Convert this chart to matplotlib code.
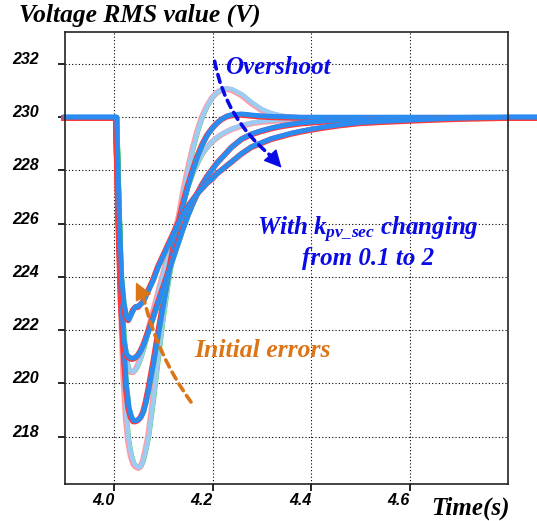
import matplotlib
matplotlib.use("Agg")
import matplotlib.pyplot as plt
from matplotlib.transforms import ScaledTranslation

plt.rcParams['mathtext.fontset'] = 'custom'
plt.rcParams['mathtext.rm'] = 'Liberation Serif:bold:italic'
plt.rcParams['mathtext.it'] = 'Liberation Serif:bold:italic'
plt.rcParams['mathtext.bf'] = 'Liberation Serif:bold:italic'

# Tiempo (s) y valor RMS de la tensión (V) para cada k_pv_sec
t = [3.90, 4.000, 4.005, 4.010, 4.015, 4.020, 4.025, 4.030, 4.035, 4.040,
     4.045, 4.050, 4.055, 4.060, 4.065, 4.070, 4.080, 4.090, 4.100, 4.110,
     4.120, 4.130, 4.140, 4.150, 4.160, 4.170, 4.180, 4.190, 4.200, 4.210,
     4.220, 4.230, 4.240, 4.260, 4.280, 4.300, 4.320, 4.340, 4.360, 4.380,
     4.400, 4.430, 4.460, 4.500, 4.550, 4.600, 4.650, 4.700, 4.750, 4.800,
     4.860]

v_a = [230.0, 230.0, 230.0, 226.5, 223.0, 220.3, 218.7, 217.8, 217.3, 217.0,
       216.9, 216.85, 216.9, 217.15, 217.55, 218.0, 219.4, 221.0, 222.5, 223.8,
       224.9, 226.0, 227.1, 228.0, 228.8, 229.5, 230.05, 230.45, 230.75, 230.95,
       231.05, 231.08, 231.05, 230.85, 230.55, 230.3, 230.15, 230.06, 230.02, 230.0,
       230.0, 230.0, 230.0, 230.0, 230.0, 230.0, 230.0, 230.0, 230.0, 230.0,
       230.0]
v_b = [230.0, 230.0, 230.0, 226.5, 223.5, 221.3, 219.9, 219.1, 218.75, 218.6,
       218.6, 218.65, 218.75, 218.95, 219.3, 219.75, 220.75, 221.85, 222.95, 224.0,
       225.0, 225.9, 226.7, 227.4, 228.0, 228.55, 229.0, 229.35, 229.6, 229.8,
       229.95, 230.05, 230.1, 230.12, 230.08, 230.05, 230.03, 230.02, 230.01, 230.0,
       230.0, 230.0, 230.0, 230.0, 230.0, 230.0, 230.0, 230.0, 230.0, 230.0,
       230.0]
v_c = [230.0, 230.0, 230.0, 226.5, 223.5, 221.8, 220.9, 220.55, 220.45, 220.45,
       220.55, 220.75, 221.0, 221.3, 221.65, 222.0, 222.7, 223.4, 224.1, 224.8,
       225.45, 226.1, 226.8, 227.4, 227.9, 228.3, 228.65, 228.9, 229.1, 229.25,
       229.38, 229.48, 229.57, 229.7, 229.79, 229.85, 229.88, 229.91, 229.93, 229.95,
       229.96, 229.97, 229.98, 229.99, 230.0, 230.0, 230.0, 230.0, 230.0, 230.0,
       230.0]
v_d = [230.0, 230.0, 230.0, 226.0, 223.0, 221.6, 221.1, 221.0, 220.95, 220.95,
       221.0, 221.1, 221.25, 221.45, 221.7, 221.95, 222.5, 223.05, 223.6, 224.15,
       224.7, 225.25, 225.8, 226.3, 226.75, 227.15, 227.5, 227.8, 228.05, 228.3,
       228.5, 228.7, 228.9, 229.2, 229.38, 229.5, 229.6, 229.68, 229.74, 229.79,
       229.82, 229.86, 229.9, 229.93, 229.95, 229.96, 229.98, 229.99, 230.0, 230.0,
       230.0]
v_e = [230.0, 230.0, 230.0, 226.5, 224.0, 223.0, 222.5, 222.4, 222.6, 222.8,
       222.9, 222.9, 223.0, 223.1, 223.3, 223.5, 223.9, 224.4, 224.8, 225.2,
       225.6, 226.0, 226.35, 226.65, 226.9, 227.15, 227.35, 227.55, 227.7, 227.9,
       228.05, 228.2, 228.35, 228.65, 228.9, 229.05, 229.2, 229.3, 229.4, 229.48,
       229.55, 229.64, 229.72, 229.8, 229.85, 229.89, 229.93, 229.96, 229.98, 230.0,
       230.0]

x_ticks = [4.0, 4.2, 4.4, 4.6]
y_ticks = [218, 220, 222, 224, 226, 228, 230, 232]

# claros primero, saturados encima
curvas = [
    (v_a, '#ff9ca4', '#9ccbf4', 3.2),
    (v_c, '#ff9ca4', '#9ccbf4', 3.2),
    (v_b, '#ff3838', '#2a8cf0', 3.5),
    (v_d, '#ff3838', '#2a8cf0', 3.5),
    (v_e, '#ff3838', '#2a8cf0', 3.5),
]

fig = plt.figure(figsize=(5.37, 5.21), dpi=100)
ax = fig.add_axes([0.121, 0.071, 0.825, 0.8676])

off_red = ax.transData + ScaledTranslation(-0.008, -0.008, fig.dpi_scale_trans)
off_green = ax.transData + ScaledTranslation(0.015, 0.0, fig.dpi_scale_trans)
for v, c_red, c_blue, lw in curvas:
    ax.plot(t, v, color=c_red, lw=4.2, clip_on=False, transform=off_red)
    ax.plot(t, v, color='#4fdc4f', lw=1.6, clip_on=False, transform=off_green)
    ax.plot(t, v, color=c_blue, lw=lw, clip_on=False)

ax.set_xlim(3.9, 4.8)
ax.set_ylim(216.22, 233.2)
ax.set_xticks(x_ticks)
ax.set_yticks(y_ticks)
ax.set_xticklabels(['%.1f' % x for x in x_ticks])
ax.set_yticklabels([str(y) for y in y_ticks])
ax.grid(True, color='black', linestyle=(0, (1, 2)), linewidth=0.8)
ax.tick_params(axis='y', direction='out', length=5, width=1.2, pad=14)
ax.tick_params(axis='x', direction='out', length=5, width=1.2, pad=1.5)
for lab in ax.get_yticklabels():
    lab.set_fontfamily('Liberation Sans')
    lab.set_fontweight('bold')
    lab.set_fontstyle('italic')
    lab.set_fontsize(11.5)
    lab.set_va('baseline')
for lab in ax.get_xticklabels():
    lab.set_fontfamily('Liberation Sans')
    lab.set_fontweight('bold')
    lab.set_fontstyle('italic')
    lab.set_fontsize(11.5)
    lab.set_ha('right')
for sp in ax.spines.values():
    sp.set_linewidth(1.2)
    sp.set_color('#222222')

serif = dict(family='Liberation Serif', weight='bold', style='italic')
fig.text(0.035, 0.958, 'Voltage RMS value (V)', fontsize=18.4, **serif)
fig.text(0.95, 0.0115, 'Time(s)', fontsize=18, ha='right', **serif)

azul = '#0a0ae6'
naranja = '#dc7418'
ax.text(4.2245, 231.64, 'Overshoot', color=azul, fontsize=18, **serif)
ax.text(4.516, 225.57, r'With $k_{pv\_sec}$ changing', color=azul,
        fontsize=18, ha='center', **serif)
ax.text(4.516, 224.45, 'from 0.1 to 2', color=azul, fontsize=18,
        ha='center', **serif)
ax.text(4.163, 221.0, 'Initial errors', color=naranja, fontsize=18.5, **serif)


# flechas discontinuas: trazo discontinuo + punta maciza
def flecha(cola, punta, antes, color, rad):
    ax.annotate('', xy=antes, xytext=cola,
                arrowprops=dict(arrowstyle='-', color=color, lw=2.6,
                                linestyle=(0, (2.2, 1.6)), shrinkA=0, shrinkB=0,
                                connectionstyle='arc3,rad=%s' % rad))
    ax.annotate('', xy=punta, xytext=antes,
                arrowprops=dict(arrowstyle='-|>,head_length=1.0,head_width=0.5',
                                mutation_scale=11, color=color, lw=1,
                                shrinkA=0, shrinkB=0))


flecha((4.204, 232.1), (4.340, 228.1), (4.318, 228.55), azul, 0.18)
flecha((4.156, 219.3), (4.044, 223.8), (4.060, 223.2), naranja, -0.1)

fig.savefig('out.png', dpi=100, facecolor='white')
